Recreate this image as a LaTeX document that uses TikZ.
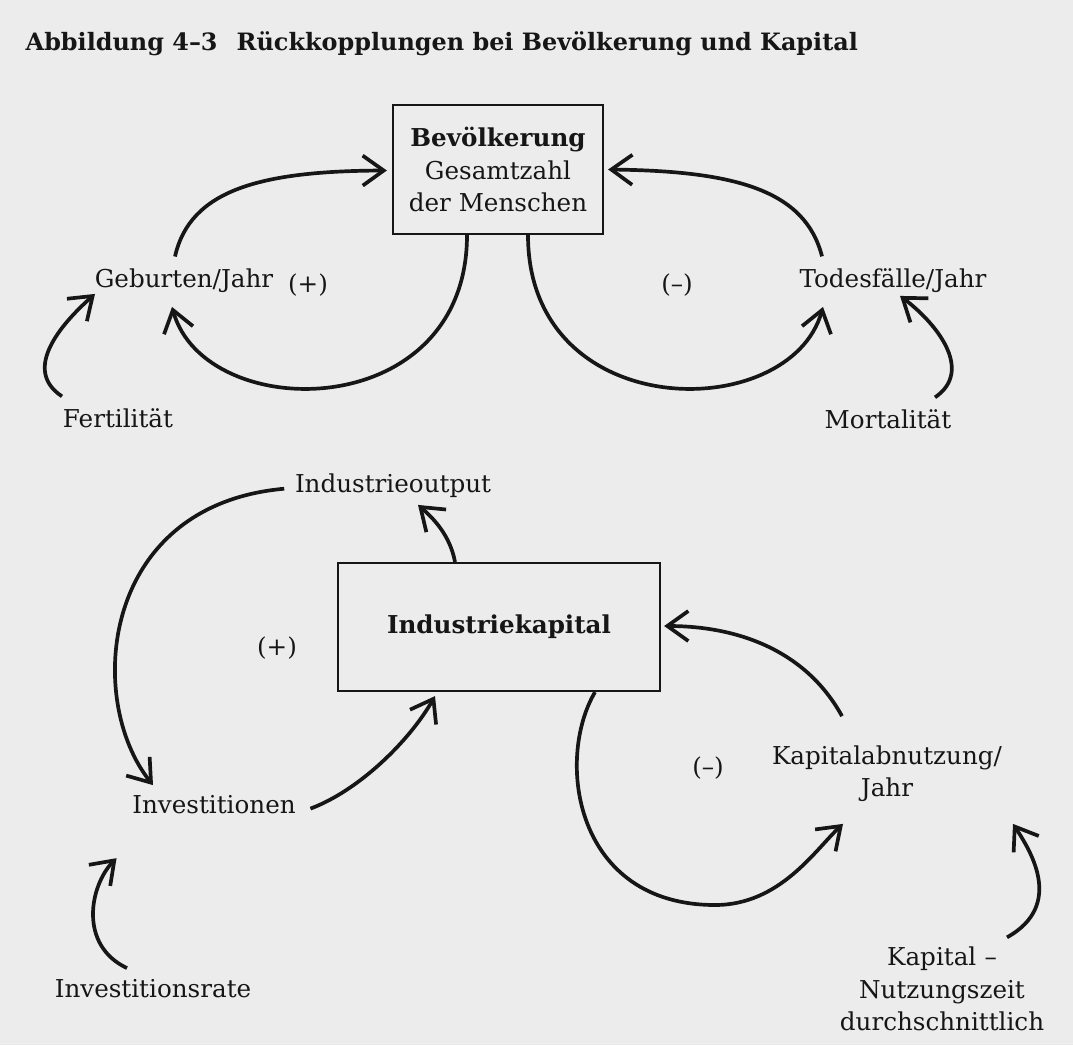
\documentclass[tikz,border=0pt]{standalone}
\usepackage{fontspec}
\setmainfont{DejaVu Serif}
\usepackage{tikz}
\usetikzlibrary{arrows.meta, calc}
\definecolor{paper}{RGB}{236,236,236}
\definecolor{ink}{RGB}{22,22,22}

\begin{document}
\begin{tikzpicture}[
    x=0.01cm, y=-0.01cm,
    stock/.style={rectangle, draw=ink, line width=0.6pt, align=center, text=ink, font=\fontsize{7pt}{9.2pt}\selectfont},
    var/.style={align=center, text=ink, inner sep=2.3pt, font=\fontsize{7pt}{9.2pt}\selectfont},
    sign/.style={text=ink, inner sep=1pt, font=\fontsize{7pt}{9.2pt}\selectfont},
    flow/.style={-{Straight Barb[length=2.1mm, width=3mm]}, line width=1.05pt, ink}
]
% Paper
\fill[paper] (0,0) rectangle (1073,1045);
\useasboundingbox (0,0) rectangle (1073,1045);

% Title
\node[anchor=base west, inner sep=0pt, text=ink, font=\fontsize{6.8pt}{9pt}\selectfont\bfseries] (title) at (25,50) {Abbildung 4--3\hspace{0.45em} Rückkopplungen bei Bevölkerung und Kapital};

% Stocks
\node[stock, minimum width=2.1cm, minimum height=1.29cm] (bev) at (498,169.5) {\textbf{Bevölkerung}\\Gesamtzahl\\der Menschen};
\node[stock, minimum width=3.22cm, minimum height=1.28cm] (kap) at (499,627) {\textbf{Industriekapital}};

% Population loop
\node[var, anchor=base] (geb) at (184,287) {Geburten/Jahr};
\node[var, anchor=base] (tod) at (893,287) {Todesfälle/Jahr};
\node[var, anchor=base] (fert) at (118,427) {Fertilität};
\node[var, anchor=base] (mort) at (888,428) {Mortalität};
\node[sign, anchor=base] (pluspop) at (308,292) {(+)};
\node[sign, anchor=base] (minuspop) at (677,292) {(--)};

% Capital loop
\node[var, anchor=base] (indout) at (393,492) {Industrieoutput};
\node[var, anchor=base] (inv) at (214,813) {Investitionen};
\node[var, anchor=base] (rate) at (153,997) {Investitionsrate};
\node[var, text width=3cm] (abn) at (887,774) {\fontsize{7pt}{10pt}\selectfont Kapitalabnutzung/\\Jahr};
\node[var, text width=3cm] (nutz) at (942,989) {Kapital --\\Nutzungszeit\\durchschnittlich};
\node[sign, anchor=base] (pluskap) at (277,655) {(+)};
\node[sign, anchor=base] (minuskap) at (708,775) {(--)};

% Arrows population
\draw[flow] ($(geb.north)+(-9,-3)$) .. controls (190,190) and (260,171) .. ($(bev.west)+(-5,1)$);
\draw[flow] ($(bev.south)+(-31,0)$) .. controls (467,425) and (205,425) .. ($(geb.south)+(-12,6)$);
\draw[flow] ($(bev.south)+(30,0)$) .. controls (528,425) and (790,425) .. ($(tod.south)+(-70,6)$);
\draw[flow] ($(tod.north)+(-71,-3)$) .. controls (805,190) and (735,171) .. ($(bev.east)+(4,0)$);
\draw[flow] ($(fert.north)+(-56,-3)$) .. controls (22,370) and (60,325) .. ($(geb.south west)+(9,-7)$);
\draw[flow] ($(mort.north)+(47,-3)$) .. controls (975,370) and (935,322) .. ($(tod.south)+(7,-5)$);

% Arrows capital
\draw[flow] ($(kap.north)+(-44,0)$) .. controls (450,535) and (433,518) .. ($(indout.south)+(25,-1)$);
\draw[flow] ($(indout.west)+(-2,3.5)$) .. controls (100,505) and (85,700) .. ($(inv.north)+(-61,-1)$);
\draw[flow] ($(inv.east)+(6,4.5)$) .. controls (360,790) and (410,740) .. ($(kap.south)+(-64,4)$);
\draw[flow] ($(kap.south)+(96,0)$) .. controls (555,760) and (575,905) .. (715,905) .. controls (780,905) and (815,850) .. ($(abn.south)+(-44,13)$);
\draw[flow] ($(abn.north)+(-45,-21)$) .. controls (800,640) and (720,626) .. ($(kap.east)+(3,-1)$);
\draw[flow] ($(nutz.north)+(65,-1)$) .. controls (1065,905) and (1030,850) .. ($(abn.south)+(126,13)$);
\draw[flow] ($(rate.north)+(-26,-2)$) .. controls (78,945) and (90,885) .. ($(inv.south west)+(-7,36)$);
\end{tikzpicture}
\end{document}
